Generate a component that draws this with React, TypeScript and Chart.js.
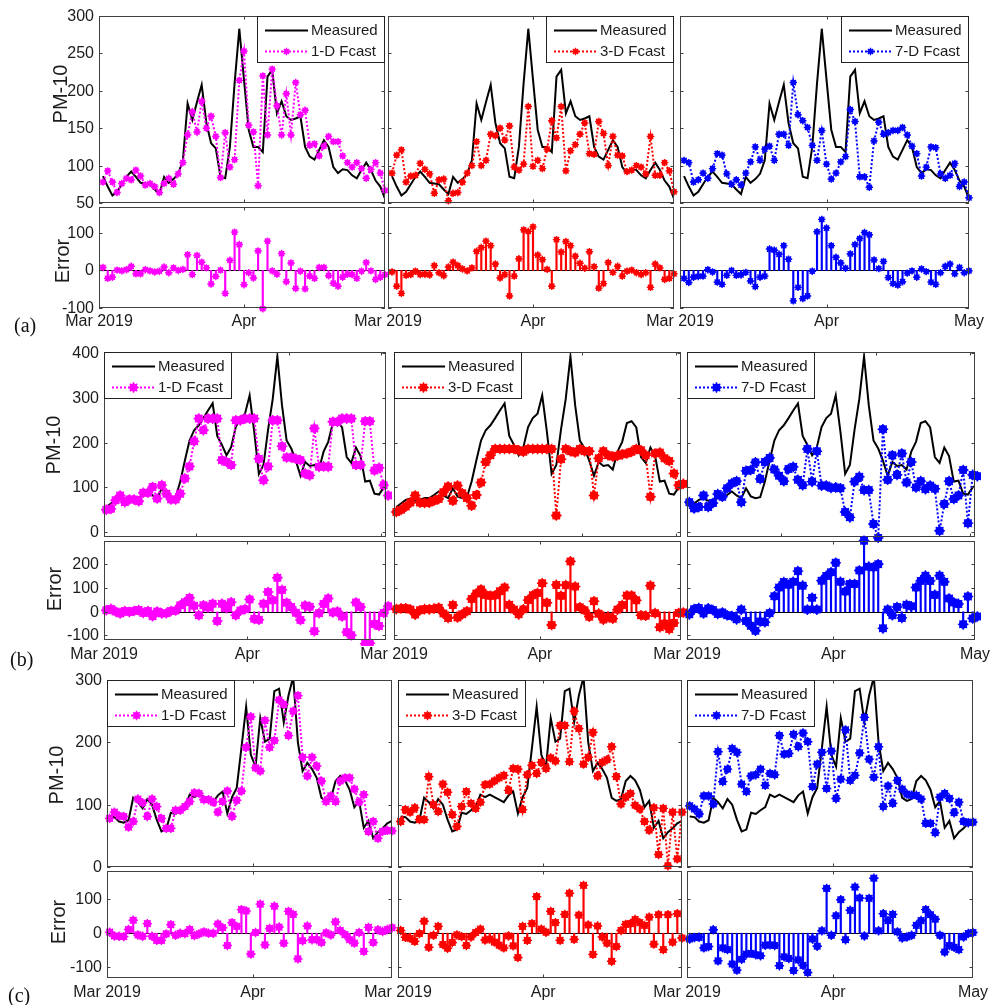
import React, { useEffect, useRef } from "react";
import { Chart, registerables } from "chart.js";

Chart.register(...registerables);

const FONT = '"Liberation Sans", Arial, Helvetica, sans-serif';
const TXT = "#1c1c1c";
const AX = "#404040";

// ---------------- data: row (a) ----------------
const measuredA = [86,72,60,65,75,85,92,85,77,76,75,68,62,85,77,82,89,107,183,161,185,208,157,130,123,85,83,125,210,283,215,148,125,125,118,219,228,170,186,166,161,163,166,125,112,108,121,134,125,98,90,95,94,87,83,94,104,94,80,72,56];
const fcast1A = [78,93,78,64,76,83,81,94,86,74,76,72,64,76,83,75,89,104,141,172,145,186,150,166,139,84,144,98,108,214,253,154,145,73,220,141,229,180,141,196,141,211,168,174,127,129,113,126,139,132,132,113,104,98,104,96,83,95,104,90,67];
const fcast3A = [90,114,121,78,86,87,103,95,89,63,81,82,53,63,64,78,90,100,132,100,107,142,140,150,134,153,98,94,102,179,99,107,96,122,160,137,179,93,120,128,142,157,116,115,159,143,100,139,114,113,92,94,100,98,89,139,87,87,104,93,65];
const fcast7A = [107,104,78,81,90,83,96,116,114,89,75,81,74,90,105,125,107,122,126,107,142,142,127,211,168,160,151,127,107,147,102,82,90,105,112,175,159,85,85,71,133,158,142,144,147,147,151,141,126,116,86,98,125,124,89,83,87,103,72,78,57];
const error1A = [8,-21,-18,1,-1,2,11,-9,-9,2,-1,-4,-2,9,-6,7,0,3,42,-11,40,22,7,-36,-16,1,-61,27,102,69,-38,-6,-20,52,-102,78,-1,-10,45,-30,20,-48,-2,-49,-15,-21,8,8,-14,-34,-42,-18,-10,-11,-21,-2,21,-1,-24,-18,-11];
const error3A = [-4,-42,-61,-13,-11,-2,-11,-10,-12,13,-6,-14,9,22,13,4,-1,7,51,61,78,66,17,-20,-11,-68,-15,31,108,104,116,41,29,3,-42,82,49,77,66,38,19,6,50,10,-47,-35,21,-5,11,-15,-2,1,-6,-11,-6,-45,17,7,-24,-21,-9];
const error7A = [-21,-32,-18,-16,-15,2,-4,-31,-37,-13,0,-13,-12,-5,-28,-43,-18,-15,57,54,43,66,30,-81,-45,-75,-68,-2,103,136,113,66,35,20,6,44,69,85,101,95,28,5,24,-19,-35,-39,-30,-7,-1,-18,4,-3,-31,-37,-6,11,17,-9,8,-6,-1];

// ---------------- data: row (b) ----------------
const measuredB = [56,64,72,75,70,72,76,76,83,91,82,76,98,80,76,78,113,160,205,228,239,255,272,288,215,195,172,190,235,255,265,306,224,130,150,230,298,393,284,205,187,160,126,157,148,150,140,180,202,244,248,234,168,155,189,170,113,115,86,84,100,105];
const fcast1B = [50,52,71,82,67,73,73,69,88,88,101,75,105,86,73,73,86,120,147,203,254,228,254,254,254,161,157,150,250,250,254,254,254,164,116,147,250,250,192,167,167,164,161,131,127,232,146,147,146,247,247,254,254,254,150,150,248,248,138,144,105,82];
const fcast3B = [45,50,57,66,82,66,65,66,70,74,89,102,70,104,87,76,59,83,111,157,172,186,186,186,186,186,183,180,186,186,186,186,186,186,37,163,186,181,178,186,181,181,82,165,181,172,169,171,174,176,180,186,183,172,79,176,178,165,159,131,105,108];
const fcast7B = [67,53,56,82,56,65,85,79,98,109,114,67,137,139,156,119,157,166,140,126,114,141,146,117,105,186,113,181,104,104,99,100,98,45,33,113,124,94,94,18,-13,230,117,172,128,176,111,157,100,114,96,104,97,3,63,114,74,82,139,20,128,125];
const error1B = [6,12,1,-7,3,-1,3,7,-5,3,-19,1,-7,-6,3,5,27,40,58,25,-15,27,18,34,-39,34,15,40,-15,5,11,52,-30,-34,34,83,48,143,92,38,20,-4,-35,26,21,-82,-6,33,56,-3,1,-20,-86,-99,39,20,-135,-133,-52,-60,-5,23];
const error3B = [11,14,15,9,-12,6,11,10,13,17,-7,-26,28,-24,-11,2,54,77,94,71,67,69,86,102,29,9,-11,10,49,69,79,120,38,-56,113,67,112,212,106,19,6,-21,44,-8,-33,-22,-29,9,28,68,68,48,-15,-17,110,-6,-65,-50,-73,-47,-5,-3];
const error7B = [-11,11,16,-7,14,7,-9,-3,-15,-18,-32,9,-39,-59,-80,-41,-44,-6,65,102,125,114,126,171,110,9,59,9,131,151,166,206,126,85,117,117,174,299,190,187,200,-70,9,-15,20,-26,29,23,102,130,152,130,71,152,126,56,39,33,-53,64,-28,-20];

// ---------------- data: row (c) ----------------
const measuredC = [81,80,73,71,75,111,104,94,109,100,76,57,60,87,85,91,96,116,112,116,112,108,104,115,121,86,112,127,191,257,180,161,239,201,206,282,286,232,275,305,200,154,167,157,143,111,106,109,138,146,139,124,96,106,63,74,46,56,62,70,74];
const fcast1C = [78,88,82,81,64,73,109,103,81,109,97,78,62,62,91,91,97,105,119,118,108,108,104,88,105,122,81,107,122,192,241,159,154,235,192,203,268,261,211,250,275,176,146,176,162,138,105,114,105,138,143,143,125,104,116,57,73,46,57,59,58];
const fcast3C = [73,92,88,95,76,76,145,100,89,133,120,84,65,97,121,102,94,104,132,133,138,143,147,123,158,157,92,148,163,150,168,158,175,170,227,227,169,250,222,165,176,216,146,168,172,193,145,101,112,118,99,93,73,59,95,20,94,2,88,13,88];
const fcast7C = [98,93,85,114,114,101,185,137,157,190,184,133,121,146,148,157,131,150,148,211,181,182,213,193,215,201,129,165,184,126,186,110,141,220,139,147,183,240,173,144,193,97,130,102,139,125,117,115,115,109,70,70,55,112,118,110,87,104,73,71,72];
const error1C = [3,-8,-9,-10,11,38,-5,-9,28,-9,-21,-21,-2,25,-6,0,-1,11,-7,-2,4,0,0,27,16,-36,31,20,69,65,-61,2,85,-34,14,79,18,-29,64,55,-75,-22,21,-19,-19,-27,1,-5,33,8,-4,-19,-29,2,-53,17,-27,10,5,11,16];
const error3C = [8,-12,-15,-24,-1,35,-41,-6,20,-33,-44,-27,-5,-10,-36,-11,2,12,-20,-17,-26,-35,-43,-8,-37,-71,20,-21,28,107,12,3,64,31,-21,55,117,-18,53,140,24,-62,21,-11,-29,-82,-39,8,26,28,40,31,23,47,-32,54,-48,54,-26,57,-14];
const error7C = [-17,-13,-12,-43,-39,10,-81,-43,-48,-90,-108,-76,-61,-59,-63,-66,-35,-34,-36,-95,-69,-74,-109,-78,-94,-115,-17,-38,7,131,-6,51,98,-19,67,135,103,-8,102,161,7,57,37,55,4,-14,-11,-6,23,37,69,54,41,-6,-55,-36,-41,-48,-11,-1,2];

// day positions (date index on the time axis)
const daysA = measuredA.map((_, i) => i + 1);
const daysB = measuredB.map((_, i) => i + 0.5);
const daysC = measuredC.map((_, i) => i + 1);

// tick labels
const xTickNames = ["Mar 2019", "Apr", "May"];
const seriesNames = ["1-D Fcast", "3-D Fcast", "7-D Fcast"];
const seriesColors = ["#ff00ff", "#ff0000", "#0000ff"];
const mainTicksA = [50, 100, 150, 200, 250, 300];
const mainTicksB = [0, 100, 200, 300, 400];
const mainTicksC = [0, 100, 200, 300];
const errTicksA = [-100, 0, 100];
const errTicksB = [-100, 0, 100, 200];
const errTicksC = [-100, 0, 100];

type RowCfg = {
  tag: string; tagX: number; tagY: number;
  mainT: number; mainB: number; errT: number; errB: number;
  cols: [number, number][];
  xMin: number; xMax: number; apr: number; xs: number[];
  mainY: [number, number]; mainTicks: number[]; mainMarks: number[];
  errY: [number, number]; errTicks: number[];
  labelY: number; pm: [number, number]; er: [number, number];
  legendSide: "left" | "right"; radius: number;
  measured: number[]; fc: number[][]; err: number[][];
};

const ROWS: RowCfg[] = [
  {
    tag: "(a)", tagX: 14, tagY: 315,
    mainT: 16, mainB: 203, errT: 207, errB: 308,
    cols: [[99, 385], [388, 674], [680, 969]],
    xMin: 0.15, xMax: 61, apr: 31, xs: daysA,
    mainY: [50, 300], mainTicks: mainTicksA, mainMarks: [31],
    errY: [-100, 169], errTicks: errTicksA,
    labelY: 326, pm: [61, 94], er: [63, 261],
    legendSide: "right", radius: 2.4,
    measured: measuredA, fc: [fcast1A, fcast3A, fcast7A], err: [error1A, error3A, error7A],
  },
  {
    tag: "(b)", tagX: 10, tagY: 649,
    mainT: 352, mainB: 537, errT: 541, errB: 640,
    cols: [[104, 386], [394, 681], [687, 975]],
    xMin: 0, xMax: 61, apr: 31, xs: daysB,
    mainY: [-11, 403], mainTicks: mainTicksB, mainMarks: [20, 40, 60],
    errY: [-119, 298], errTicks: errTicksB,
    labelY: 659, pm: [54, 445], er: [55, 589],
    legendSide: "left", radius: 4,
    measured: measuredB, fc: [fcast1B, fcast3B, fcast7B], err: [error1B, error3B, error7B],
  },
  {
    tag: "(c)", tagX: 8, tagY: 985,
    mainT: 680, mainB: 867, errT: 871, errB: 978,
    cols: [[107, 392], [398, 682], [687, 973]],
    xMin: 0.43, xMax: 61, apr: 31.4, xs: daysC,
    mainY: [0, 300], mainTicks: mainTicksC, mainMarks: [31.4],
    errY: [-131, 182], errTicks: errTicksC,
    labelY: 997, pm: [57, 775], er: [59, 922],
    legendSide: "left", radius: 3.4,
    measured: measuredC, fc: [fcast1C, fcast3C, fcast7C], err: [error1C, error3C, error7C],
  },
];

type PanelProps = {
  l: number; t: number; r: number; b: number;
  xMin: number; xMax: number; yMin: number; yMax: number;
  yTicks: number[]; yLabels: boolean; xMarks: number[];
  xLabels?: { v: number; t: string }[]; xLabelY?: number;
  title?: { text: string; x: number; y: number };
  stem: boolean; xs: number[]; measured?: number[]; values: number[];
  color: string; radius: number; legend?: { side: "left" | "right"; name: string };
};

const PADL = 100, PADR = 40, PADT = 8, PADB = 44;

function drawMarker(ctx: CanvasRenderingContext2D, x: number, y: number, r: number, color: string) {
  ctx.save();
  ctx.fillStyle = color;
  ctx.strokeStyle = color;
  ctx.setLineDash([]);
  ctx.beginPath();
  ctx.arc(x, y, r, 0, Math.PI * 2);
  ctx.fill();
  const s = r + 1.3;
  ctx.lineWidth = 1.4;
  ctx.beginPath();
  ctx.moveTo(x - s, y); ctx.lineTo(x + s, y);
  ctx.moveTo(x, y - s); ctx.lineTo(x, y + s);
  const d = s * 0.7071;
  ctx.moveTo(x - d, y - d); ctx.lineTo(x + d, y + d);
  ctx.moveTo(x - d, y + d); ctx.lineTo(x + d, y - d);
  ctx.stroke();
  ctx.restore();
}

function Panel(p: PanelProps) {
  const ref = useRef<HTMLCanvasElement | null>(null);
  const w = p.r - p.l + PADL + PADR;
  const h = p.b - p.t + PADT + PADB;
  const cl = p.l - PADL;
  const ct = p.t - PADT;

  useEffect(() => {
    const canvas = ref.current;
    if (!canvas) return;
    const pts = p.xs.map((x, i) => ({ x, y: p.values[i] }));
    const datasets: any[] = [];
    if (p.stem) {
      datasets.push({ type: "bar", data: pts, backgroundColor: p.color, barThickness: 1.5, order: 4 });
    } else {
      datasets.push({
        type: "line", data: p.xs.map((x, i) => ({ x, y: p.measured![i] })),
        borderColor: "#000", borderWidth: 2, pointRadius: 0, tension: 0, clip: 0, order: 4,
      });
      datasets.push({
        type: "line", data: pts, borderColor: p.color, borderWidth: 2, borderDash: [2, 2],
        pointRadius: 0, tension: 0, clip: 0, order: 3,
      });
    }
    datasets.push({
      type: "line", data: pts, showLine: false, pointStyle: "circle", pointRadius: p.radius,
      pointBackgroundColor: p.color, pointBorderColor: p.color, pointBorderWidth: 1, clip: 6, order: 2,
    });
    datasets.push({
      type: "line", data: pts, showLine: false, pointStyle: "star", pointRadius: p.radius + 1.3,
      pointBackgroundColor: p.color, pointBorderColor: p.color, pointBorderWidth: 1.4, clip: 6, order: 1,
    });

    const axesPlugin = {
      id: "matlabAxes",
      beforeDatasetsDraw(chart: any) {
        if (!p.stem) return;
        const { ctx, chartArea: a, scales } = chart;
        const y0 = Math.round(scales.y.getPixelForValue(0)) + 0.5;
        ctx.save();
        ctx.strokeStyle = "#000";
        ctx.lineWidth = 1.2;
        ctx.beginPath();
        ctx.moveTo(a.left, y0);
        ctx.lineTo(a.right, y0);
        ctx.stroke();
        ctx.restore();
      },
      afterDatasetsDraw(chart: any) {
        const { ctx, chartArea: a, scales } = chart;
        const xs = scales.x, ys = scales.y;
        const TL = 3.5;
        ctx.save();
        ctx.setLineDash([]);
        ctx.strokeStyle = AX;
        ctx.lineWidth = 1;
        ctx.strokeRect(a.left + 0.5, a.top + 0.5, a.right - a.left - 1, a.bottom - a.top - 1);
        ctx.beginPath();
        for (const v of p.yTicks) {
          const y = Math.round(ys.getPixelForValue(v)) + 0.5;
          ctx.moveTo(a.left, y); ctx.lineTo(a.left + TL, y);
          ctx.moveTo(a.right, y); ctx.lineTo(a.right - TL, y);
        }
        for (const v of p.xMarks) {
          const x = Math.round(xs.getPixelForValue(v)) + 0.5;
          ctx.moveTo(x, a.top); ctx.lineTo(x, a.top + TL);
          ctx.moveTo(x, a.bottom); ctx.lineTo(x, a.bottom - TL);
        }
        ctx.stroke();
        ctx.fillStyle = TXT;
        ctx.font = `16px ${FONT}`;
        if (p.yLabels) {
          ctx.textAlign = "right";
          ctx.textBaseline = "middle";
          for (const v of p.yTicks) ctx.fillText(String(v), a.left - 5, ys.getPixelForValue(v) + 0.5);
        }
        if (p.xLabels && p.xLabelY !== undefined) {
          ctx.textAlign = "center";
          ctx.textBaseline = "alphabetic";
          for (const lb of p.xLabels) ctx.fillText(lb.t, xs.getPixelForValue(lb.v), p.xLabelY - ct);
        }
        if (p.title) {
          ctx.save();
          ctx.translate(p.title.x - cl, p.title.y - ct);
          ctx.rotate(-Math.PI / 2);
          ctx.font = `20px ${FONT}`;
          ctx.textAlign = "center";
          ctx.textBaseline = "middle";
          ctx.fillText(p.title.text, 0, 0);
          ctx.restore();
        }
        ctx.restore();
      },
      afterDraw(chart: any) {
        if (!p.legend) return;
        const { ctx, chartArea: a } = chart;
        const lw = 128, lh = 47;
        const lx = p.legend.side === "right" ? a.right - lw : a.left;
        const ly = a.top;
        ctx.save();
        ctx.fillStyle = "#fff";
        ctx.fillRect(lx, ly, lw, lh);
        ctx.strokeStyle = "#222";
        ctx.lineWidth = 1;
        ctx.setLineDash([]);
        ctx.strokeRect(lx + 0.5, ly + 0.5, lw - 1, lh - 1);
        const y1 = ly + 14.5, y2 = ly + 35.5;
        ctx.strokeStyle = "#000";
        ctx.lineWidth = 2;
        ctx.beginPath(); ctx.moveTo(lx + 8, y1); ctx.lineTo(lx + 51, y1); ctx.stroke();
        ctx.strokeStyle = p.color;
        ctx.setLineDash([2, 2]);
        ctx.beginPath(); ctx.moveTo(lx + 8, y2); ctx.lineTo(lx + 51, y2); ctx.stroke();
        ctx.setLineDash([]);
        drawMarker(ctx, lx + 29.5, y2, p.radius, p.color);
        ctx.fillStyle = TXT;
        ctx.font = `15px ${FONT}`;
        ctx.textAlign = "left";
        ctx.textBaseline = "middle";
        ctx.fillText("Measured", lx + 54, y1 + 0.5);
        ctx.fillText(p.legend.name, lx + 54, y2 + 0.5);
        ctx.restore();
      },
    };

    const chart = new Chart(canvas, {
      type: p.stem ? "bar" : "line",
      data: { datasets },
      options: {
        animation: false,
        responsive: false,
        devicePixelRatio: 1,
        events: [],
        layout: { padding: { left: PADL, right: PADR, top: PADT, bottom: PADB } },
        scales: {
          x: { type: "linear", min: p.xMin, max: p.xMax, display: false, offset: false },
          y: { type: "linear", min: p.yMin, max: p.yMax, display: false },
        },
        plugins: { legend: { display: false }, tooltip: { enabled: false }, title: { display: false } },
      } as any,
      plugins: [axesPlugin],
    } as any);
    return () => chart.destroy();
  }, []);

  return (
    <canvas
      ref={ref}
      width={w}
      height={h}
      style={{ position: "absolute", left: cl, top: ct, width: w, height: h }}
    />
  );
}

function RowBlock({ row }: { row: RowCfg }) {
  const panels: React.ReactNode[] = [];
  row.cols.forEach(([l, r], ci) => {
    const color = seriesColors[ci];
    const xLabels = [
      { v: row.xMin, t: xTickNames[0] },
      { v: row.apr, t: xTickNames[1] },
    ];
    if (ci === 2) xLabels.push({ v: row.xMax, t: xTickNames[2] });
    panels.push(
      <Panel
        key={`m${ci}`}
        l={l} t={row.mainT} r={r} b={row.mainB}
        xMin={row.xMin} xMax={row.xMax} yMin={row.mainY[0]} yMax={row.mainY[1]}
        yTicks={row.mainTicks} yLabels={ci === 0} xMarks={row.mainMarks}
        title={ci === 0 ? { text: "PM-10", x: row.pm[0], y: row.pm[1] } : undefined}
        stem={false} xs={row.xs} measured={row.measured} values={row.fc[ci]}
        color={color} radius={row.radius}
        legend={{ side: row.legendSide, name: seriesNames[ci] }}
      />
    );
    panels.push(
      <Panel
        key={`e${ci}`}
        l={l} t={row.errT} r={r} b={row.errB}
        xMin={row.xMin} xMax={row.xMax} yMin={row.errY[0]} yMax={row.errY[1]}
        yTicks={row.errTicks} yLabels={ci === 0} xMarks={[row.apr]}
        xLabels={xLabels} xLabelY={row.labelY}
        title={ci === 0 ? { text: "Error", x: row.er[0], y: row.er[1] } : undefined}
        stem={true} xs={row.xs} values={row.err[ci]}
        color={color} radius={row.radius}
      />
    );
  });
  return (
    <>
      {panels}
      <span
        style={{
          position: "absolute", left: row.tagX, top: row.tagY,
          font: '20px "Liberation Serif", "Times New Roman", serif', lineHeight: "20px", color: "#111",
        }}
      >
        {row.tag}
      </span>
    </>
  );
}

export default function App() {
  return (
    <div
      style={{
        position: "absolute", left: 0, top: 0, width: 991, height: 1005,
        overflow: "hidden", background: "#fff",
      }}
    >
      {ROWS.map((row, i) => (
        <RowBlock key={i} row={row} />
      ))}
    </div>
  );
}
